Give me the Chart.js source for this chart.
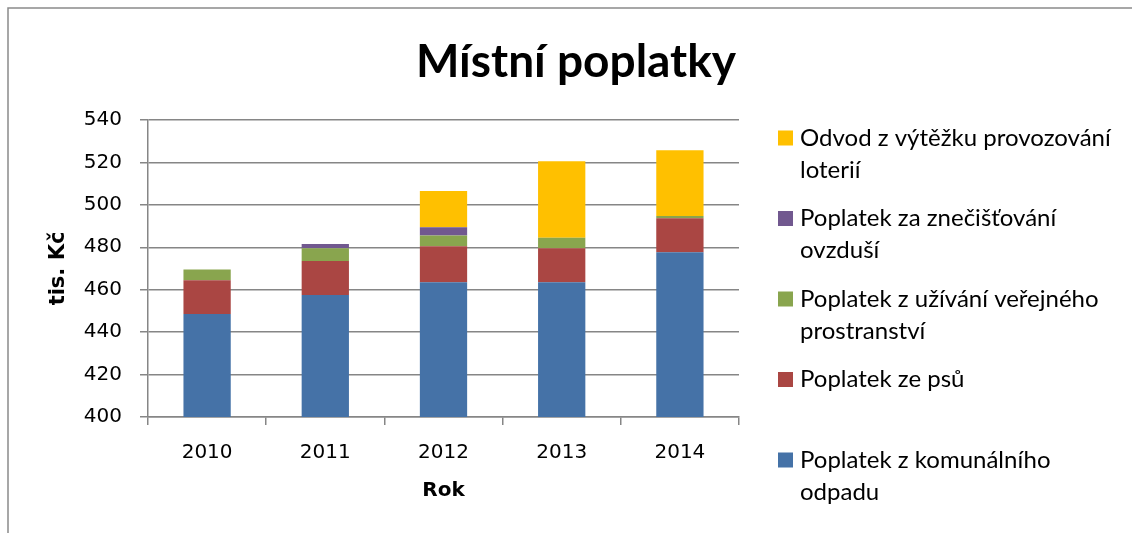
<!DOCTYPE html>
<html>
<head>
<meta charset="utf-8">
<script src="https://cdn.jsdelivr.net/npm/chart.js@4.4.1/dist/chart.umd.min.js"></script>
<style>
  html, body { margin: 0; padding: 0; background: #fff; }
  #wrap { position: relative; width: 1132px; height: 533px; }
  canvas { display: block; }
</style>
</head>
<body>
<div id="wrap"><canvas id="c" width="1132" height="533"></canvas></div>
<script>
const years = ["2010", "2011", "2012", "2013", "2014"];
const komunalniOdpad = [448.5, 457.5, 463.5, 463.5, 477.7];
const poplatekPsi = [16, 16, 17, 16, 16];
const verejneProstranstvi = [5, 6, 5, 5, 1];
const znecistovaniOvzdusi = [0, 2, 4, 0, 0];
const loterie = [0, 0, 17, 36, 31];
const yTicks = [400, 420, 440, 460, 480, 500, 520, 540];

const chartTitle = "Místní poplatky";
const seriesNames = [
  ["Poplatek z komunálního", "odpadu"],
  ["Poplatek ze psů"],
  ["Poplatek z užívání veřejného", "prostranství"],
  ["Poplatek za znečišťování", "ovzduší"],
  ["Odvod z výtěžku provozování", "loterií"]
];
const seriesColors = ["#4572A7", "#AA4643", "#89A54E", "#71588F", "#FFC000"];
const seriesValues = [komunalniOdpad, poplatekPsi, verejneProstranstvi, znecistovaniOvzdusi, loterie];

const gridColor = "#868686";

const frame = {
  id: "frame",
  beforeDraw(chart) {
    const ctx = chart.ctx;
    ctx.save();
    ctx.fillStyle = "#fff";
    ctx.fillRect(0, 0, chart.width, chart.height);
    ctx.strokeStyle = "#8a8a8a";
    ctx.lineWidth = 1.5;
    ctx.beginPath();
    ctx.moveTo(8, chart.height + 5);
    ctx.lineTo(8, 8);
    ctx.lineTo(chart.width + 5, 8);
    ctx.stroke();
    ctx.restore();
  },
  afterDraw(chart) {
    const ctx = chart.ctx;
    ctx.save();
    ctx.font = "bold 46px Lato";
    ctx.fillStyle = "#000";
    ctx.textAlign = "center";
    ctx.textBaseline = "alphabetic";
    ctx.fillText(chartTitle, 576, 77);
    ctx.restore();
  }
};

const sideLegend = {
  id: "sideLegend",
  afterDraw(chart) {
    const ctx = chart.ctx;
    const ds = chart.data.datasets;
    ctx.save();
    ctx.font = "24px Lato";
    ctx.textBaseline = "middle";
    ctx.textAlign = "left";
    const n = ds.length;
    for (let k = 0; k < n; k++) {
      const d = ds[n - 1 - k];
      const y0 = 138 + k * 80.5;
      ctx.fillStyle = d.backgroundColor;
      ctx.fillRect(778, y0 - 7.5, 15, 15);
      ctx.fillStyle = "#000";
      d.label.forEach((line, j) => ctx.fillText(line, 800, y0 + j * 32));
    }
    ctx.restore();
  }
};

new Chart(document.getElementById("c"), {
  type: "bar",
  data: {
    labels: years,
    datasets: seriesValues.map((v, i) => ({
      label: seriesNames[i],
      data: v,
      backgroundColor: seriesColors[i],
      borderWidth: 0,
      barPercentage: 0.4,
      categoryPercentage: 1.0
    }))
  },
  options: {
    responsive: false,
    animation: false,
    devicePixelRatio: 1,
    layout: { padding: { left: 8, right: 393, top: 120, bottom: 0 } },
    plugins: {
      legend: { display: false },
      tooltip: { enabled: false },
      title: { display: false }
    },
    scales: {
      x: {
        stacked: true,
        afterFit(s) { s.height = 116; },
        grid: { drawOnChartArea: false, drawTicks: true, tickLength: 8, color: gridColor, lineWidth: 1.5 },
        border: { color: gridColor, width: 1.5 },
        ticks: { color: "#000", font: { family: "DejaVu Sans", size: 20 }, padding: 16 },
        title: {
          display: true, text: "Rok", color: "#000",
          font: { family: "DejaVu Sans", size: 20, weight: "bold" },
          padding: { top: 30, bottom: 30 }
        }
      },
      y: {
        stacked: true,
        min: 400, max: 540,
        afterFit(s) { s.width = 140; },
        afterBuildTicks(s) { s.ticks = yTicks.map(v => ({ value: v })); },
        grid: { color: gridColor, lineWidth: 1.5, tickLength: 8 },
        border: { color: gridColor, width: 1.5 },
        ticks: { color: "#000", font: { family: "DejaVu Sans", size: 20 }, padding: 18 },
        title: {
          display: true, text: "tis. Kč", color: "#000",
          font: { family: "DejaVu Sans", size: 21, weight: "bold" },
          padding: { top: 38, bottom: 10 }
        }
      }
    }
  },
  plugins: [frame, sideLegend]
});
</script>
</body>
</html>
